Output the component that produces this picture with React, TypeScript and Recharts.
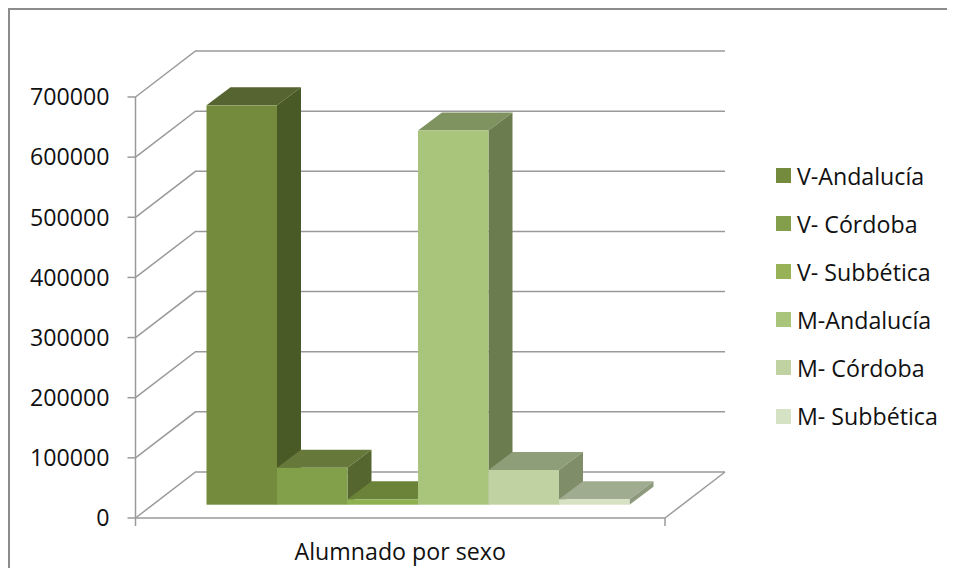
import { BarChart, Bar, XAxis, YAxis, CartesianGrid } from 'recharts';

const CATEGORY = ['Alumnado por sexo'];
const SERIES = ['V-Andalucía', 'V- Córdoba', 'V- Subbética', 'M-Andalucía', 'M- Córdoba', 'M- Subbética'];
const VALUES = [664000, 61500, 9000, 622000, 57700, 9000];
const TICKS = [0, 100000, 200000, 300000, 400000, 500000, 600000, 700000];
const FRONT = ['#748a3c', '#829f4a', '#8fb04f', '#a9c47b', '#c0d2a2', '#d6e2c4'];
const TOP = ['#566431', '#66793a', '#6b8239', '#7f9360', '#8e9e78', '#a0ac90'];
const SIDE = ['#4a5a27', '#55672e', '#5b7030', '#6b7d4f', '#7f8d69', '#8d9a7e'];
const SWATCH = ['#748a3c', '#849f4b', '#98b258', '#a9c47b', '#c0d2a2', '#d6e2c4'];

const FONT = '"Open Sans", sans-serif';
const FONT_SIZE = 23.2;
const GRID = '#9a9a9a';

// perspective offsets: back wall vs front, bar front vs axis plane
const WALL_DX = 60;
const WALL_DY = -46;
const BAR_DX = 18;
const BAR_DY = -13.3;
const DEPTH_DX = 24;
const DEPTH_DY = -18;

const rows = CATEGORY.map((name) => {
  const row: Record<string, string | number> = { name };
  SERIES.forEach((s, i) => {
    row[s] = VALUES[i];
  });
  return row;
});

function Bar3D(props: any) {
  const { x, y, width, height, seriesIndex } = props;
  const x0 = x + BAR_DX;
  const y0 = y + BAR_DY;
  const x1 = x0 + width;
  const y1 = y0 + height;
  const dx = DEPTH_DX;
  const dy = DEPTH_DY;
  return (
    <g>
      <polygon
        points={`${x0},${y0} ${x0 + dx},${y0 + dy} ${x1 + dx},${y0 + dy} ${x1},${y0}`}
        fill={TOP[seriesIndex]}
      />
      <polygon
        points={`${x1},${y0} ${x1 + dx},${y0 + dy} ${x1 + dx},${y1 + dy} ${x1},${y1}`}
        fill={SIDE[seriesIndex]}
      />
      <rect x={x0} y={y0} width={width} height={height} fill={FRONT[seriesIndex]} />
    </g>
  );
}

function WallLine(props: any) {
  const { x1, x2, y1 } = props;
  return (
    <polyline
      points={`${x1},${y1} ${x1 + WALL_DX},${y1 + WALL_DY} ${x2 + WALL_DX},${y1 + WALL_DY}`}
      fill="none"
      stroke={GRID}
      strokeWidth={1.5}
    />
  );
}

function FloorEdge(props: any) {
  const { x1, x2, y1, index } = props;
  if (index !== 0) return <g />;
  return (
    <g fill="none" stroke={GRID} strokeWidth={1.5}>
      <line x1={x2} y1={y1} x2={x2 + WALL_DX} y2={y1 + WALL_DY} />
      <line x1={x1} y1={y1} x2={x1} y2={y1 + 8} />
      <line x1={x2} y1={y1} x2={x2} y2={y1 + 8} />
    </g>
  );
}

function GridLines(props: any) {
  return (
    <g>
      <WallLine {...props} />
      <FloorEdge {...props} />
    </g>
  );
}

function LegendList() {
  return (
    <div style={{ position: 'absolute', left: 768, top: 143.5, fontFamily: FONT, fontSize: FONT_SIZE, color: '#111' }}>
      {SERIES.map((s, i) => (
        <div key={s} style={{ display: 'flex', alignItems: 'center', height: 48.1, whiteSpace: 'nowrap' }}>
          <span style={{ width: 15, height: 15, background: SWATCH[i], marginRight: 6 }} />
          {s}
        </div>
      ))}
    </div>
  );
}

export default function App() {
  return (
    <div style={{ width: 939, height: 560, position: 'relative' }}>
      <div
        style={{
          position: 'absolute',
          left: 0,
          top: 0,
          width: 947,
          height: 568,
          borderLeft: '2px solid #8c8c8c',
          borderTop: '2px solid #8c8c8c',
          boxSizing: 'border-box',
        }}
      />
      <BarChart
        width={939}
        height={560}
        data={rows}
        margin={{ top: 89, right: 282, bottom: 0, left: 0 }}
        barSize={70.5}
        barGap={0}
        style={{ position: 'absolute', left: 0, top: 0 }}
      >
        <CartesianGrid vertical={false} horizontal={(p: any) => <GridLines key={p.key} {...p} />} />
        <XAxis
          dataKey="name"
          height={50}
          tickLine={false}
          stroke={GRID}
          strokeWidth={1.5}
          tick={{ fill: '#111', fontSize: FONT_SIZE, fontFamily: FONT }}
          tickMargin={20}
        />
        <YAxis
          domain={[0, 700000]}
          ticks={TICKS}
          width={127.5}
          stroke={GRID}
          strokeWidth={1.5}
          tickSize={8}
          tickMargin={18}
          interval={0}
          tick={{ fill: '#111', fontSize: FONT_SIZE, fontFamily: FONT }}
        />
        {SERIES.map((s, i) => (
          <Bar key={s} dataKey={s} isAnimationActive={false} shape={<Bar3D seriesIndex={i} />} />
        ))}
      </BarChart>
      <LegendList />
    </div>
  );
}
